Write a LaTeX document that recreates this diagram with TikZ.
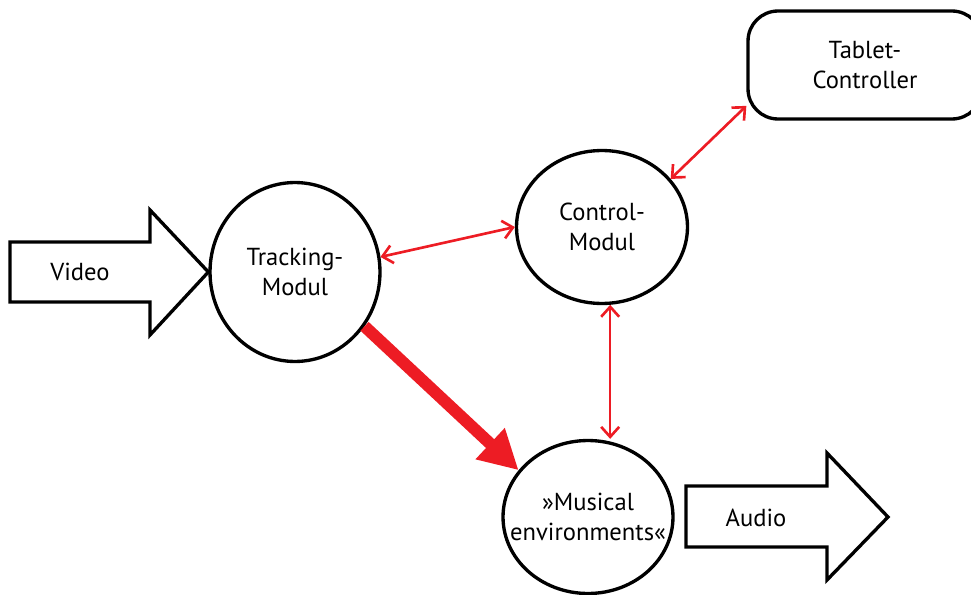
\documentclass[tikz,border=0pt]{standalone}
\usepackage{fontspec}
\setmainfont{PT Sans}
\usetikzlibrary{shapes.geometric,arrows.meta}

\definecolor{arrowred}{HTML}{ED1C24}
\tikzset{
  modul/.style={draw,ellipse,line width=1.9pt,inner sep=0pt,align=center,
    font=\fontsize{14}{17}\selectfont},
  label/.style={font=\fontsize{14}{17}\selectfont},
  blockarrow/.style={draw,line width=1.9pt,line join=miter},
  link/.style={draw=arrowred,line width=1.5pt,
    {Straight Barb[length=0.2cm,width=0.36cm]}-{Straight Barb[length=0.2cm,width=0.36cm]}},
  flow/.style={draw=arrowred,line width=0.24cm,
    -{Triangle[length=0.78cm,width=0.8cm]}},
}

\begin{document}
\begin{tikzpicture}[x=0.02cm,y=-0.02cm]
\useasboundingbox (0,0) rectangle (971,595);

% the modules
\node[modul,minimum width=3.4cm,minimum height=3.58cm] (track) at (295,272) {Tracking-\\Modul};
\node[modul,minimum width=3.42cm,minimum height=3.06cm] (ctrl) at (602,227) {Control-\\Modul};
\node[modul,inner xsep=-0.6cm,minimum width=3.4cm,minimum height=3.06cm] (mus) at (588,517) {»Musical\\environments«};
\node[draw,line width=1.9pt,rounded corners=0.6cm,minimum width=4.68cm,minimum height=2.16cm,
  align=center,font=\fontsize{14}{17}\selectfont] (tab) at (865,65) {Tablet-\\Controller};

% input and output
\draw[blockarrow] (10,242) -- (150,242) -- (150,210) -- (track.west) -- (150,335) -- (150,302) -- (10,302) -- cycle;
\node[label] (video) at (80,272) {Video};
\draw[blockarrow] (686,486) -- (827,486) -- (827,453) -- (888,517) -- (827,580) -- (827,547) -- (686,547) -- cycle;
\node[label] (audio) at (756,518) {Audio};

% connections
\draw[link] (track.10) -- (ctrl.west);
\draw[link] (ctrl.35) -- (tab.199);
\draw[link] (ctrl.276) -- (ctrl.276 |- mus.north);
\draw[flow] (track.-38) -- (mus.146);

\end{tikzpicture}
\end{document}
